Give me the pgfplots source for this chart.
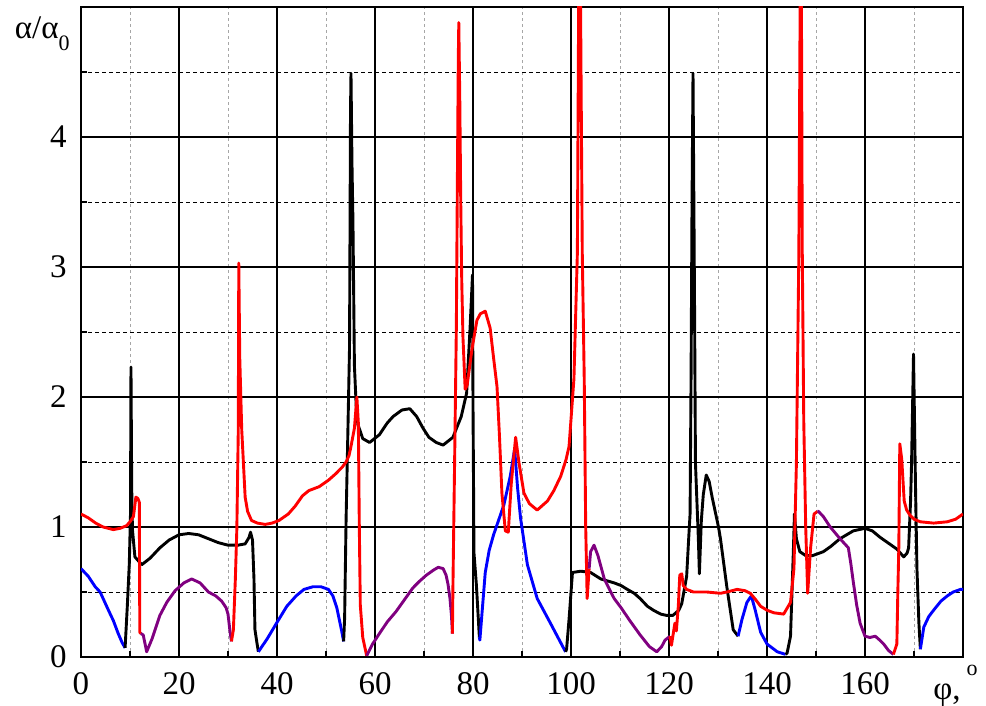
\documentclass[border=0pt]{standalone}
\usepackage{fontspec}
\setmainfont{Liberation Serif}
\usepackage{pgfplots}
\pgfplotsset{compat=1.18}
\definecolor{cpurple}{RGB}{128,0,128}
\begin{document}
\fontsize{16.5}{19}\selectfont
\begin{tikzpicture}
\begin{axis}[
  scale only axis, width=441pt, height=325pt,
  xmin=0, xmax=180, ymin=0, ymax=5,
  xtick={0,20,...,160}, ytick={0,1,2,3,4},
  minor xtick={10,30,...,170}, minor ytick={0.5,1.5,...,4.5},
  grid=both,
  major grid style={black, line width=0.6pt, solid},
  minor x grid style={gray!70, line width=0.45pt, dash pattern=on 1.5pt off 1.5pt},
  minor y grid style={black, line width=0.45pt, dash pattern=on 2pt off 1.5pt},
  axis line style={black, line width=1pt},
  tick align=inside, xtick pos=bottom, ytick pos=left,
  major tick length=3pt, minor tick length=3pt,
  tick style={black, line width=0.6pt},
  tick label style={font=\fontsize{16.5}{19}\selectfont},
  xticklabel style={yshift=-2pt},
  yticklabel style={xshift=-1.5pt},
  /pgf/number format/assume math mode=true,
  xlabel={φ,\hspace{3pt}\raisebox{12pt}{\fontsize{11}{11}\selectfont o}},
  xlabel style={at={(axis description cs:0.966,-0.066)}, anchor=base west, inner sep=0pt},
  ylabel={α/α\raisebox{-6pt}{\fontsize{11}{11}\selectfont 0}},
  ylabel style={rotate=-90, at={(axis description cs:-0.044,0.952)}, anchor=base, inner sep=0pt},
  every axis plot/.append style={line width=1.45pt, line join=round},
  clip=true,
]
% ---- curve A : blue / black ----
\addplot[blue] coordinates {(0,0.68) (1.5,0.62) (2.9,0.54) (3.9,0.5) (5.6,0.36) (6.6,0.28) (7.6,0.18) (8.4,0.11) (9.0,0.07)};
\addplot[black] coordinates {(9.0,0.07) (9.45,0.39) (9.86,0.72) (10.1,1.1) (10.2,2.23) (10.35,1.3) (10.5,0.98) (11.0,0.77) (12.4,0.71) (14.1,0.76) (16.1,0.84) (18,0.9) (20,0.94) (22,0.95) (24,0.94) (26,0.91) (28,0.88) (30,0.86) (32,0.86) (33.5,0.87) (34.3,0.92) (34.6,0.96) (35.0,0.90) (35.3,0.6) (35.5,0.21) (35.9,0.11) (36.2,0.04)};
\addplot[blue] coordinates {(36.2,0.04) (38,0.14) (39.9,0.26) (42,0.39) (43.9,0.47) (45.5,0.52) (47.3,0.54) (49,0.54) (50.5,0.52) (51.4,0.47) (52.2,0.38) (52.7,0.29) (53.2,0.2) (53.6,0.12)};
\addplot[black] coordinates {(53.6,0.12) (53.8,0.3) (54.1,1.06) (54.5,1.8) (54.8,2.38) (55.0,4.2) (55.1,4.49) (55.3,3.8) (55.5,3.35) (55.8,2.24) (56.2,1.9) (56.5,1.79) (57.5,1.68) (58.9,1.65) (60.9,1.71) (62.5,1.8) (63.7,1.85) (65.5,1.9) (67.1,1.91) (68.5,1.85) (69.8,1.76) (71,1.69) (72.5,1.65) (73.9,1.63) (75.9,1.69) (77.6,1.85) (78.7,2.03) (79.4,2.53) (79.9,2.94) (80.0,1.94) (80.2,0.8) (80.7,0.55) (81.3,0.15)};
\addplot[blue] coordinates {(81.3,0.15) (81.4,0.13) (82.5,0.65) (83.3,0.82) (84.2,0.94) (86.3,1.17) (87.6,1.39) (88.5,1.6) (89.1,1.3) (89.7,1.07) (91.1,0.71) (93.1,0.45) (95.8,0.26) (98.6,0.06) (98.9,0.04)};
\addplot[black] coordinates {(98.9,0.04) (99.1,0.06) (99.6,0.29) (100.3,0.65) (102,0.66) (104,0.65) (106.1,0.6) (108.8,0.57) (110.2,0.55) (111.5,0.52) (112.9,0.49) (114.1,0.45) (115.6,0.39) (116.8,0.36) (118.3,0.33) (119.5,0.32) (120.8,0.32) (122.0,0.36) (122.6,0.41) (123.6,0.62) (124.0,0.9) (124.3,1.1) (124.5,2.14) (124.7,3.5) (124.9,4.49) (125.2,2.79) (125.4,1.49) (126.0,0.9) (126.2,0.64) (126.6,1.05) (127.0,1.25) (127.6,1.4) (128.2,1.35) (128.8,1.23) (130.1,1.0) (130.5,0.91) (131.8,0.54) (133.1,0.21) (134.1,0.16)};
\addplot[blue] coordinates {(134.1,0.16) (134.9,0.29) (135.9,0.42) (136.8,0.47) (137.6,0.36) (138.7,0.19) (140,0.1) (142.1,0.04) (143.8,0.02)};
\addplot[black] coordinates {(143.8,0.02) (144.1,0.03) (144.8,0.16) (145.4,0.84) (145.6,1.1) (146.0,0.91) (146.7,0.81) (147.9,0.78) (149.3,0.78) (151.5,0.81) (153,0.85) (154.9,0.91) (157.6,0.97) (160,0.99) (161.5,0.97) (163.1,0.92) (165,0.87) (166.5,0.83) (167.9,0.77) (168.6,0.8) (168.9,0.84) (169.3,1.2) (169.5,1.49) (169.9,2.33) (170.3,1.33) (170.6,0.68) (171.0,0.26) (171.3,0.06)};
\addplot[blue] coordinates {(171.3,0.06) (172,0.23) (173,0.31) (174,0.36) (175.5,0.43) (176.8,0.47) (178,0.5) (179.5,0.52) (180,0.52)};
% ---- curve B : red / purple ----
\addplot[red] coordinates {(0,1.1) (1.5,1.07) (3,1.03) (4.5,1.0) (6.6,0.98) (8,0.99) (9.3,1.01) (10.0,1.04) (10.7,1.08) (11.0,1.17) (11.2,1.23) (11.6,1.22) (11.9,1.19) (12.0,0.19) (12.2,0.18)};
\addplot[cpurple] coordinates {(12.2,0.18) (12.7,0.17) (13.4,0.04) (14.5,0.14) (16.1,0.32) (17.5,0.42) (19.2,0.51) (21,0.57) (22.6,0.6) (24.3,0.57) (26,0.5) (27.5,0.47) (28.7,0.43) (29.6,0.38) (30.0,0.33) (30.4,0.2) (30.7,0.12)};
\addplot[red] coordinates {(30.7,0.12) (31.1,0.21) (31.5,0.6) (31.8,0.98) (32.1,1.75) (32.2,3.03) (32.4,2.3) (32.8,1.75) (33.5,1.23) (34.0,1.12) (34.8,1.05) (36,1.03) (37.6,1.02) (39,1.03) (40.4,1.05) (42.3,1.1) (43.7,1.16) (45.2,1.24) (46.5,1.28) (48.6,1.31) (50.5,1.36) (52,1.41) (53.3,1.46) (54.1,1.5) (54.7,1.55) (55.1,1.62) (55.8,1.76) (56.3,2.0) (56.6,1.8) (56.8,1.0) (57.0,0.4) (57.5,0.15) (58.3,0.01)};
\addplot[cpurple] coordinates {(58.3,0.01) (59.5,0.1) (60.9,0.18) (62.5,0.27) (64.3,0.35) (66,0.44) (67.7,0.53) (69,0.58) (70.5,0.63) (72,0.67) (72.9,0.69) (73.9,0.68) (74.5,0.63) (74.9,0.56) (75.3,0.45) (75.6,0.32) (75.8,0.18)};
\addplot[red] coordinates {(75.8,0.18) (75.9,0.53) (76.3,1.65) (76.6,2.53) (76.8,3.6) (77.0,4.6) (77.1,4.88) (77.3,4.3) (77.5,3.5) (77.7,2.9) (77.95,2.46) (78.4,2.06) (78.8,2.09) (79.8,2.37) (80.8,2.59) (81.5,2.64) (82.5,2.66) (83.5,2.53) (84.2,2.3) (84.9,2.08) (85.4,1.7) (85.9,1.26) (86.6,0.97) (87.2,0.96) (87.8,1.33) (88.7,1.69) (89.4,1.49) (90.4,1.26) (91.5,1.18) (93.1,1.13) (95.2,1.2) (96.5,1.28) (97.9,1.39) (99.0,1.52) (99.6,1.62) (100.6,2.14) (101.3,3.11) (101.6,5.3) (101.9,5.3) (102.3,3.11) (102.7,2.14) (103.0,1.0) (103.3,0.45) (103.7,0.68)};
\addplot[cpurple] coordinates {(103.7,0.68) (104.0,0.81) (104.7,0.86) (105.5,0.78) (106.8,0.6) (108.8,0.45) (110.2,0.38) (112,0.28) (114.1,0.17) (116,0.08) (117.5,0.04) (118.5,0.08) (119.2,0.13) (120.2,0.16)};
\addplot[red] coordinates {(120.2,0.16) (120.5,0.09) (121.2,0.26) (121.5,0.2) (121.9,0.39) (122.2,0.63) (122.6,0.64) (122.9,0.55) (123.6,0.52) (125,0.5) (127.7,0.5) (130.5,0.49) (131.8,0.5) (133.9,0.52) (135.5,0.51) (136.6,0.49) (137.7,0.44) (138.7,0.39) (140,0.36) (141.4,0.34) (143.4,0.33) (144.8,0.42) (145.5,0.68) (146.0,1.49) (146.5,3.11) (146.8,5.3) (147.0,5.3) (147.2,3.11) (147.5,1.82) (147.9,1.0) (148.3,0.49) (148.9,0.84) (149.6,1.1) (150.3,1.12)};
\addplot[cpurple] coordinates {(150.3,1.12) (150.5,1.12) (151.5,1.08) (152.9,1.0) (154.9,0.91) (156.6,0.84) (157.1,0.72) (157.6,0.58) (158.3,0.4) (159,0.26) (160,0.16) (161,0.15) (162.1,0.16) (163,0.13) (163.8,0.1) (164.8,0.05) (165.8,0.02)};
\addplot[red] coordinates {(165.8,0.02) (166.5,0.1) (166.7,0.5) (166.9,0.84) (167.1,1.64) (167.5,1.52) (168,1.2) (168.5,1.13) (169.2,1.09) (170,1.06) (171.3,1.04) (174,1.03) (176.8,1.04) (178.5,1.06) (180,1.1)};
\end{axis}
\pgfresetboundingbox
\path[use as bounding box] (-40.5pt,-24.5pt) rectangle (452.5pt,328.5pt);
\end{tikzpicture}
\end{document}
